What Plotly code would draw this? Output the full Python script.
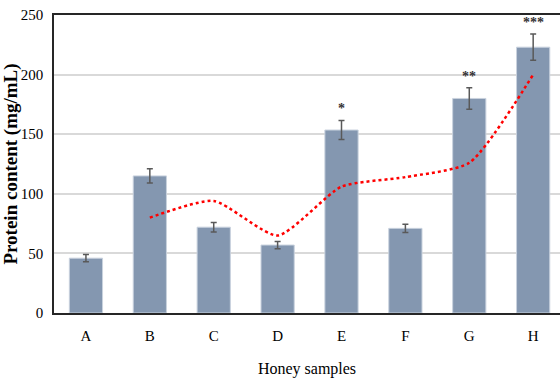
import plotly.graph_objects as go

samples = ["A", "B", "C", "D", "E", "F", "G", "H"]
protein = [46, 115, 72, 57, 153.5, 71, 180, 223]
errors = [3, 6, 4, 3, 8, 3.5, 9, 11]
trend_samples = ["B", "C", "D", "E", "F", "G", "H"]
trend_values = [80, 94, 65, 106, 114, 126, 200]
signif = ["", "", "", "", "*", "", "**", "***"]

serif = "Liberation Serif, Times New Roman, serif"

fig = go.Figure()
fig.add_trace(go.Bar(
    x=samples, y=protein,
    marker=dict(color="#8497B0", line=dict(color="#C9D2DE", width=1)),
    width=0.52,
    error_y=dict(type="data", array=errors, visible=True,
                 color="#595959", thickness=1.5, width=3),
    showlegend=False,
))
fig.add_trace(go.Scatter(
    x=trend_samples, y=trend_values, mode="lines",
    line=dict(color="#FF0000", width=2.5, dash="dot", shape="spline", smoothing=0.6),
    showlegend=False,
))

for s, v, e, t in zip(samples, protein, errors, signif):
    if t:
        fig.add_annotation(x=s, y=v + e, text="<b>" + t + "</b>", showarrow=False,
                           yanchor="bottom", yshift=2,
                           font=dict(family=serif, size=14, color="#333333"))

fig.update_layout(
    width=560, height=378,
    margin=dict(l=54, r=0, t=15, b=65),
    plot_bgcolor="white", paper_bgcolor="white",
    xaxis=dict(
        type="category", range=[-0.5, 7.42],
        showline=True, linecolor="#262626", linewidth=2, mirror=True,
        ticks="", showgrid=False,
        tickfont=dict(family=serif, size=15, color="#000000"),
        ticklabelstandoff=8,
        title=dict(text="Honey samples", font=dict(family=serif, size=16, color="#000000"), standoff=20),
    ),
    yaxis=dict(
        range=[0, 250], dtick=50,
        showline=True, linecolor="#262626", linewidth=1.5,
        showgrid=True, gridcolor="#D9D9D9", gridwidth=1.5,
        zeroline=False, ticks="",
        tickfont=dict(family=serif, size=15, color="#000000"),
        ticklabelstandoff=6,
        title=dict(text="<b>Protein content (mg/mL)</b>", font=dict(family=serif, size=19, color="#000000"), standoff=5),
    ),
)

fig.write_html("out.html")
